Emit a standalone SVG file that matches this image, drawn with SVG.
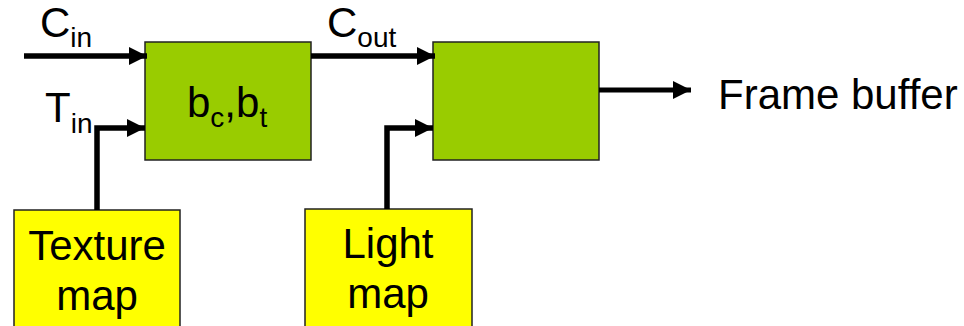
<svg xmlns="http://www.w3.org/2000/svg" width="964" height="326" viewBox="0 0 964 326">
<defs>
<style>
text{font-family:"Liberation Sans",Arial,sans-serif;fill:#000}
.lbl{font-size:42px}
.sub{font-size:28px}
.g{fill:#99CC00;stroke:#222;stroke-width:1.5}
.y{fill:#FFFF00;stroke:#222;stroke-width:1.5}
.c{fill:none;stroke:#000;stroke-width:5.5}
</style>
<marker id="ah" markerUnits="userSpaceOnUse" markerWidth="18" markerHeight="18" viewBox="0 0 17 17" refX="17" refY="8.5" orient="auto">
<path d="M0,0 L17,8.5 L0,17 Z" fill="#000"/>
</marker>
</defs>
<g id="texture-map">
<rect class="y" x="14" y="210" width="166" height="130"/>
<text class="lbl" x="97" y="260" text-anchor="middle">Texture</text>
<text class="lbl" x="97" y="310" text-anchor="middle">map</text>
</g>
<g id="light-map">
<rect class="y" x="305" y="209" width="167" height="130"/>
<text class="lbl" x="388" y="258" text-anchor="middle">Light</text>
<text class="lbl" x="388" y="308" text-anchor="middle">map</text>
</g>
<g id="combiner1">
<rect class="g" x="145" y="42" width="166" height="118"/>
<text x="187" y="117"><tspan class="lbl">b</tspan><tspan class="sub" dy="10">c</tspan><tspan class="lbl" dy="-10">,b</tspan><tspan class="sub" dy="10">t</tspan></text>
</g>
<g id="combiner2">
<rect class="g" x="433" y="42" width="166" height="118"/>
</g>
<g id="labels">
<text x="40" y="37"><tspan class="lbl">C</tspan><tspan class="sub" dy="10">in</tspan></text>
<text x="45" y="122"><tspan class="lbl">T</tspan><tspan class="sub" dy="11">in</tspan></text>
<text x="327" y="37"><tspan class="lbl">C</tspan><tspan class="sub" dy="10">out</tspan></text>
<text class="lbl" x="718" y="109">Frame buffer</text>
</g>
<g id="connectors">
<path class="c" d="M24,56 H147" marker-end="url(#ah)"/>
<path class="c" d="M97,210 V128 H145" marker-end="url(#ah)"/>
<path class="c" d="M311,56 H435" marker-end="url(#ah)"/>
<path class="c" d="M387,209 V128 H433" marker-end="url(#ah)"/>
<path class="c" d="M599,90 H691" style="stroke-width:5" marker-end="url(#ah)"/>
</g>
</svg>
